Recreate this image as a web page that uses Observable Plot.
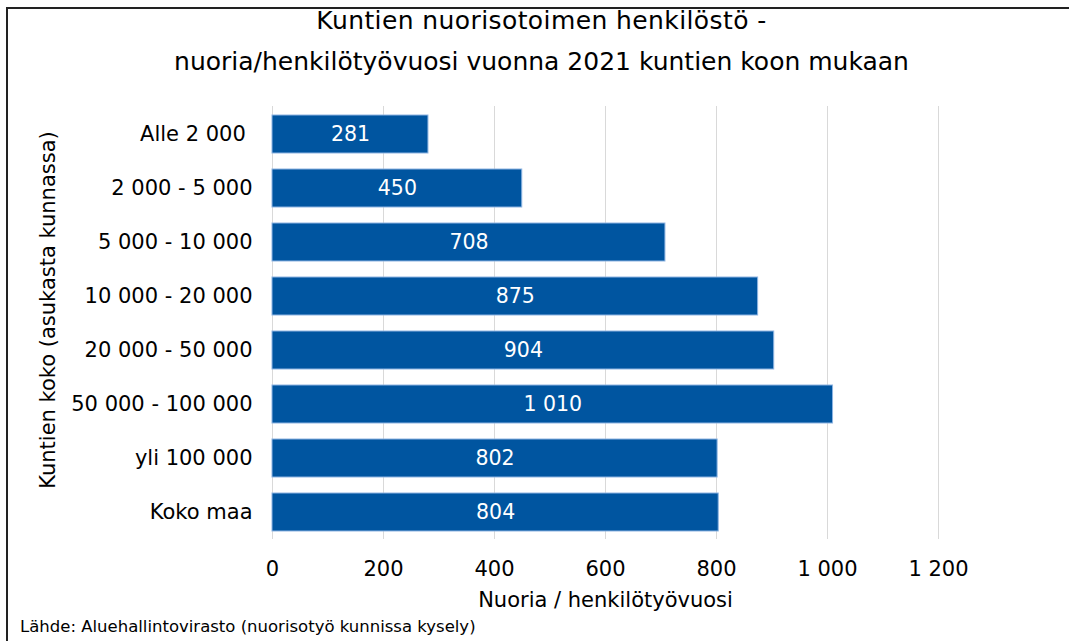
<!DOCTYPE html>
<html>
<head>
<meta charset="utf-8">
<script src="https://cdn.jsdelivr.net/npm/d3@7"></script>
<script src="https://cdn.jsdelivr.net/npm/@observablehq/plot@0.6"></script>
<style>
  html, body { margin: 0; padding: 0; background: #fff; }
  #wrap { position: relative; width: 1069px; height: 641px; overflow: hidden; font-family: "DejaVu Sans", Verdana, sans-serif; color: #000; }
  #frame { position: absolute; left: 6px; top: 7px; width: 1100px; height: 700px; border-left: 2px solid #222; border-top: 2px solid #222; }
  .title { position: absolute; left: 0; width: 1083px; text-align: center; font-size: 25px; line-height: 36px; white-space: nowrap; }
  #source { position: absolute; left: 20px; top: 617px; font-size: 16.5px; white-space: nowrap; }
  #chart { position: absolute; left: 0; top: 0; }
</style>
</head>
<body>
<div id="wrap">
  <div id="frame"></div>
  <div id="chart"></div>
  <div class="title" style="top:3px; letter-spacing:0.4px">Kuntien nuorisotoimen henkilöstö -</div>
  <div class="title" style="top:44px">nuoria/henkilötyövuosi vuonna 2021 kuntien koon mukaan</div>
  <div id="source">Lähde: Aluehallintovirasto (nuorisotyö kunnissa kysely)</div>
</div>
<script>
const categories = ["Alle 2 000 ", "2 000 - 5 000", "5 000 - 10 000", "10 000 - 20 000", "20 000 - 50 000", "50 000 - 100 000", "yli 100 000", "Koko maa"];
const values = [281, 450, 708, 875, 904, 1010, 802, 804];
const xTicks = [0, 200, 400, 600, 800, 1000, 1200];

const data = categories.map((c, i) => ({category: c, value: values[i]}));
const fmt = d => d3.format(",")(d).replace(/,/g, " ");

const chart = Plot.plot({
  width: 1069,
  height: 641,
  marginLeft: 272,
  marginRight: 131,
  marginTop: 106,
  marginBottom: 102,
  style: {fontFamily: "'DejaVu Sans', Verdana, sans-serif", background: "transparent"},
  x: {domain: [0, 1200]},
  y: {domain: categories, paddingInner: 0.3, paddingOuter: 0.14},
  marks: [
    Plot.gridX(xTicks, {stroke: "#d9d9d9", strokeOpacity: 1, strokeWidth: 1}),
    Plot.barX(data, {x: "value", y: "category", fill: "#0055a0", stroke: "#8db4e2", strokeWidth: 1}),
    Plot.text(data, {x: d => d.value / 2, y: "category", text: d => fmt(d.value), fill: "white", fontSize: 20.5}),
    Plot.axisX(xTicks, {tickSize: 0, tickPadding: 22, tickFormat: fmt, fontSize: 21, label: null}),
    Plot.axisY({tickSize: 0, tickPadding: 20, fontSize: 21, label: null}),
    Plot.text(["Nuoria / henkilötyövuosi"], {frameAnchor: "bottom", dy: 61, fontSize: 21, lineAnchor: "middle", x: () => 600}),
    Plot.text(["Kuntien koko (asukasta kunnassa)"], {frameAnchor: "left", textAnchor: "middle", lineAnchor: "middle", dx: -224, dy: -13, rotate: -90, fontSize: 21})
  ]
});
document.getElementById("chart").appendChild(chart);
</script>
</body>
</html>
